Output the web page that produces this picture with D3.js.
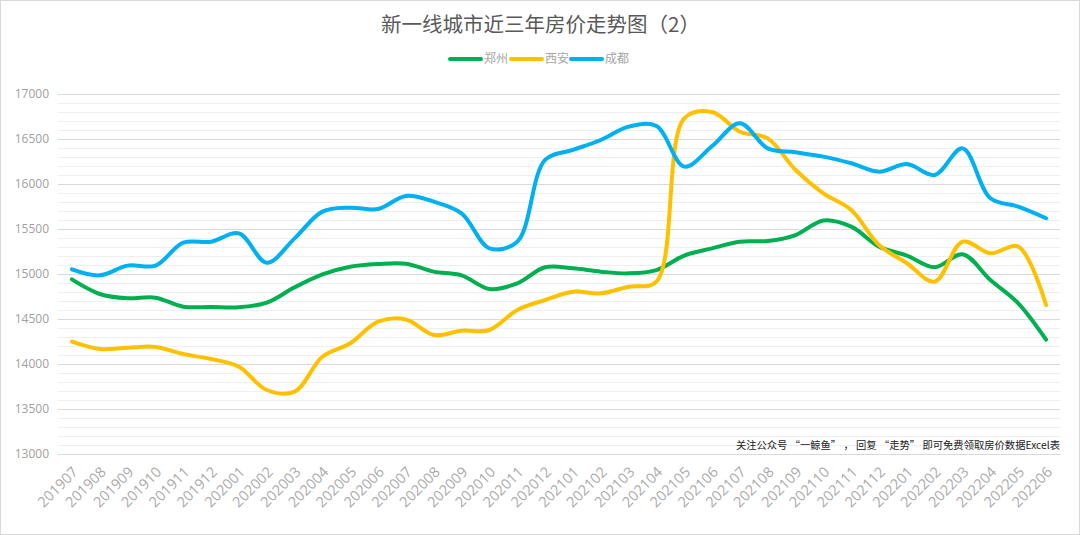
<!DOCTYPE html>
<html>
<head>
<meta charset="utf-8">
<script src="https://cdn.jsdelivr.net/npm/d3@7"></script>
<style>
  body { margin: 0; background: #fff; }
  svg { display: block; font-family: "Noto Sans CJK SC", "Open Sans", sans-serif; }
</style>
</head>
<body>
<div id="chart"></div>
<script>
const months = ["201907","201908","201909","201910","201911","201912","202001","202002","202003","202004","202005","202006",
  "202007","202008","202009","202010","202011","202012","202101","202102","202103","202104","202105","202106",
  "202107","202108","202109","202110","202111","202112","202201","202202","202203","202204","202205","202206"];

const zhengzhou = [14940, 14778, 14730, 14737, 14637, 14633, 14630, 14681, 14852, 14996, 15081, 15111,
  15115, 15026, 14985, 14833, 14896, 15075, 15063, 15026, 15007, 15044, 15205, 15285,
  15359, 15367, 15433, 15595, 15526, 15304, 15204, 15074, 15219, 14933, 14674, 14270];

const xian = [14248, 14167, 14181, 14190, 14111, 14056, 13970, 13711, 13693, 14081, 14230, 14470,
  14495, 14322, 14370, 14378, 14600, 14711, 14804, 14785, 14859, 14915, 16730, 16800,
  16581, 16507, 16156, 15896, 15711, 15322, 15119, 14915, 15359, 15230, 15304, 14656];

const chengdu = [15052, 14985, 15093, 15093, 15348, 15359, 15452, 15126, 15396, 15693, 15737, 15722,
  15867, 15804, 15674, 15285, 15359, 16267, 16378, 16489, 16637, 16644, 16193, 16420,
  16674, 16396, 16352, 16304, 16230, 16137, 16222, 16100, 16396, 15841, 15748, 15619];

const yTicks = [13000, 13500, 14000, 14500, 15000, 15500, 16000, 16500, 17000];

const series = [
  {name: "郑州", values: zhengzhou, color: "#00B050"},
  {name: "西安", values: xian, color: "#FFC000"},
  {name: "成都", values: chengdu, color: "#00B0F0"}
];

const W = 1080, H = 535;
const margin = {top: 94, right: 20, bottom: 81, left: 58};
const width = W - margin.left - margin.right;
const height = H - margin.top - margin.bottom;

const svg = d3.select("#chart").append("svg")
    .attr("width", W)
    .attr("height", H);

// outer frame
svg.append("rect")
    .attr("x", 0.5).attr("y", 0.5)
    .attr("width", W - 1).attr("height", H - 1)
    .attr("fill", "none").attr("stroke", "#d9d9d9");

const x = d3.scaleBand().domain(months).range([0, width]);
const y = d3.scaleLinear().domain([13000, 17000]).range([height, 0]);

const g = svg.append("g")
    .attr("transform", "translate(" + margin.left + "," + margin.top + ")");

// minor gridlines
g.append("g")
    .selectAll("line")
    .data(d3.range(13100, 17000, 100).filter(v => v % 500 !== 0))
    .enter().append("line")
    .attr("x1", 0).attr("x2", width)
    .attr("y1", d => Math.round(y(d)) + 0.5).attr("y2", d => Math.round(y(d)) + 0.5)
    .attr("stroke", "#efefef").attr("stroke-width", 1);

// y axis with major gridlines
const yAxis = g.append("g")
    .call(d3.axisLeft(y).tickValues(yTicks).tickSize(-width).tickPadding(9).tickFormat(d3.format("d")));
yAxis.select(".domain").remove();
yAxis.selectAll(".tick line").attr("stroke", "#d9d9d9");
yAxis.selectAll(".tick text").attr("fill", "#a0a0a0").style("font-size", "12px")
    .style("font-family", "'Open Sans', sans-serif");

// x axis
const xAxis = g.append("g")
    .attr("transform", "translate(0," + height + ")")
    .call(d3.axisBottom(x).tickSize(0));
xAxis.select(".domain").attr("stroke", "#d9d9d9");
xAxis.selectAll(".tick text")
    .attr("fill", "#aaaaaa")
    .style("font-size", "14.5px")
    .style("font-family", "'Open Sans', sans-serif")
    .attr("text-anchor", "end")
    .attr("x", 0).attr("y", 0).attr("dy", 0)
    .attr("transform", "translate(7,19) rotate(-45)");

// lines
const line = d3.line()
    .x((d, i) => x(months[i]) + x.bandwidth() / 2)
    .y(d => y(d))
    .curve(d3.curveCatmullRom.alpha(0.5));

g.selectAll(".series")
    .data(series)
    .enter().append("path")
    .attr("class", "series")
    .attr("d", d => line(d.values))
    .attr("fill", "none")
    .attr("stroke", d => d.color)
    .attr("stroke-width", 4)
    .attr("stroke-linecap", "round")
    .attr("stroke-linejoin", "round");

// title
svg.append("text")
    .attr("x", W / 2 + 0.5).attr("y", 32)
    .attr("text-anchor", "middle")
    .attr("fill", "#595959")
    .style("font-size", "20.5px")
    .text("新一线城市近三年房价走势图（2）");

// legend
const legend = svg.append("g").attr("transform", "translate(449,59)");
const legendX = [0, 61, 121];
series.forEach((s, i) => {
  const lg = legend.append("g").attr("transform", "translate(" + legendX[i] + ",0)");
  lg.append("line").attr("x1", 1).attr("x2", 32).attr("y1", 0).attr("y2", 0)
      .attr("stroke", s.color).attr("stroke-width", 4).attr("stroke-linecap", "round");
  lg.append("text").attr("x", 35).attr("y", 4)
      .attr("fill", "#a6a6a6").style("font-size", "12px").text(s.name);
});

// note
svg.append("text")
    .attr("x", 1060).attr("y", 449)
    .attr("text-anchor", "end")
    .attr("fill", "#222")
    .style("font-size", "10.3px")
    .text("关注公众号 “一鲸鱼” ， 回复 “走势” 即可免费领取房价数据Excel表");
</script>
</body>
</html>
